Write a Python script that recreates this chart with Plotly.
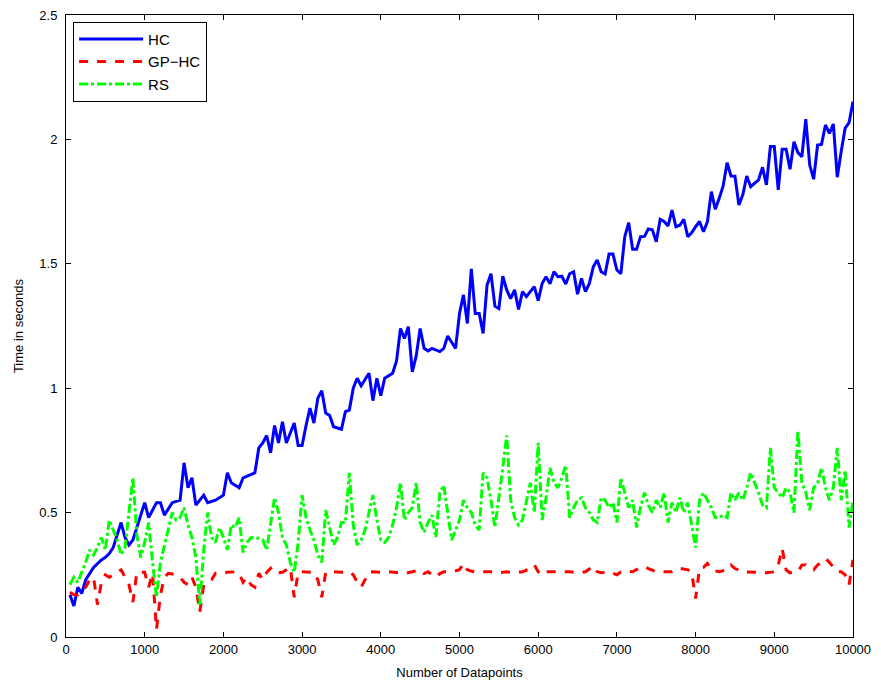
import plotly.graph_objects as go

# ---- data ----
hc_x = [50, 100, 150, 200, 250, 350, 450, 500, 550, 600, 700, 750, 800, 850, 900, 1000, 1050, 1150, 1200, 1250,
        1350, 1450, 1500, 1550, 1600, 1650, 1750, 1800, 1900, 2000, 2050, 2100, 2200, 2250, 2400, 2450, 2500, 2550,
        2600, 2650, 2700, 2750, 2800, 2900, 2950, 3000, 3050, 3100, 3150, 3200, 3250, 3300, 3350, 3400, 3450, 3500,
        3550, 3600, 3650, 3700, 3750, 3850, 3900, 3950, 4000, 4050, 4150, 4200, 4250, 4300, 4350, 4400, 4450, 4500,
        4550, 4600, 4650, 4750, 4800, 4850, 4950, 5000, 5050, 5100, 5150, 5200, 5250, 5300, 5350, 5400, 5450, 5500,
        5550, 5600, 5650, 5700, 5750, 5800, 5850, 5950, 6000, 6050, 6100, 6150, 6200, 6250, 6300, 6350, 6400, 6450,
        6500, 6550, 6600, 6650, 6700, 6750, 6800, 6850, 6900, 6950, 7000, 7050, 7100, 7150, 7200, 7250, 7300, 7350,
        7400, 7450, 7500, 7550, 7600, 7650, 7700, 7750, 7800, 7850, 7900, 7950, 8000, 8050, 8100, 8150, 8200, 8250,
        8300, 8350, 8400, 8450, 8500, 8550, 8600, 8650, 8700, 8750, 8800, 8850, 8900, 8950, 9000, 9050, 9100, 9150,
        9200, 9250, 9300, 9350, 9400, 9450, 9500, 9550, 9600, 9650, 9700, 9750, 9800, 9850, 9900, 9950, 10000]
hc_y = [0.17, 0.125, 0.2, 0.175, 0.23, 0.28, 0.31, 0.32, 0.335, 0.36, 0.46, 0.40, 0.37, 0.39, 0.44, 0.54, 0.48, 0.54, 0.54, 0.49,
        0.54, 0.55, 0.70, 0.60, 0.64, 0.53, 0.57, 0.54, 0.55, 0.57, 0.66, 0.62, 0.60, 0.64, 0.66, 0.76, 0.78, 0.81,
        0.74, 0.85, 0.78, 0.865, 0.78, 0.86, 0.77, 0.77, 0.85, 0.92, 0.86, 0.96, 0.99, 0.90, 0.89, 0.845, 0.84, 0.835,
        0.906, 0.912, 1.0, 1.04, 1.01, 1.06, 0.95, 1.04, 0.97, 1.04, 1.06, 1.11, 1.24, 1.20, 1.247, 1.066, 1.13, 1.24,
        1.16, 1.15, 1.16, 1.147, 1.16, 1.21, 1.16, 1.30, 1.375, 1.26, 1.48, 1.30, 1.30, 1.22, 1.415, 1.46, 1.33, 1.32,
        1.45, 1.395, 1.36, 1.395, 1.317, 1.388, 1.368, 1.408, 1.352, 1.421, 1.448, 1.42, 1.468, 1.448, 1.45, 1.419, 1.46, 1.468,
        1.378, 1.441, 1.388, 1.421, 1.488, 1.515, 1.468, 1.459, 1.539, 1.539, 1.475, 1.46, 1.609, 1.665, 1.558, 1.558, 1.609, 1.61,
        1.64, 1.637, 1.589, 1.679, 1.67, 1.652, 1.716, 1.649, 1.655, 1.679, 1.609, 1.625, 1.649, 1.67, 1.629, 1.669, 1.79, 1.719,
        1.763, 1.813, 1.906, 1.853, 1.852, 1.736, 1.777, 1.853, 1.81, 1.823, 1.837, 1.888, 1.817, 1.971, 1.971, 1.797, 1.96, 1.96,
        1.88, 1.991, 1.947, 1.93, 2.081, 1.897, 1.84, 1.977, 1.98, 2.058, 2.024, 2.062, 1.848, 1.951, 2.045, 2.067, 2.152]

gp_x = [50, 100, 150, 200, 250, 300, 350, 400, 450, 500, 550, 650, 700, 750, 800, 850, 900, 950, 1000, 1050,
        1100, 1150, 1200, 1250, 1300, 1400, 1450, 1500, 1550, 1600, 1650, 1700, 1750, 1800, 1850, 1900, 2000, 2050,
        2150, 2200, 2250, 2300, 2350, 2400, 2450, 2500, 2550, 2600, 2650, 2750, 2800, 2850, 2900, 2950, 3000, 3100,
        3150, 3200, 3250, 3300, 3400, 3500, 3600, 3650, 3700, 3750, 3800, 3850, 3900, 4000, 4100, 4200, 4300, 4400,
        4500, 4550, 4600, 4700, 4750, 4800, 4900, 5000, 5050, 5100, 5200, 5300, 5400, 5500, 5600, 5700, 5800, 5900,
        5950, 6000, 6050, 6100, 6200, 6300, 6400, 6500, 6600, 6700, 6750, 6800, 6900, 7000, 7050, 7100, 7200, 7300,
        7350, 7400, 7500, 7600, 7700, 7800, 7900, 7950, 8000, 8050, 8100, 8150, 8200, 8300, 8400, 8450, 8500, 8600,
        8700, 8800, 8900, 9000, 9050, 9100, 9150, 9200, 9300, 9350, 9400, 9500, 9550, 9650, 9700, 9800, 9850, 9900,
        9950, 10000]
gp_y = [0.18, 0.17, 0.17, 0.19, 0.20, 0.23, 0.24, 0.13, 0.22, 0.25, 0.24, 0.26, 0.27, 0.24, 0.21, 0.14, 0.26, 0.26, 0.26, 0.20,
        0.256, 0.03, 0.17, 0.24, 0.256, 0.25, 0.24, 0.22, 0.21, 0.24, 0.20, 0.10, 0.21, 0.22, 0.23, 0.256, 0.256, 0.26,
        0.262, 0.256, 0.22, 0.24, 0.21, 0.20, 0.256, 0.23, 0.26, 0.276, 0.256, 0.26, 0.27, 0.28, 0.16, 0.26, 0.262, 0.262,
        0.26, 0.23, 0.16, 0.26, 0.262, 0.26, 0.262, 0.25, 0.22, 0.20, 0.23, 0.26, 0.262, 0.26, 0.262, 0.26, 0.255, 0.262,
        0.27, 0.255, 0.262, 0.24, 0.255, 0.262, 0.262, 0.27, 0.296, 0.27, 0.26, 0.262, 0.262, 0.258, 0.262, 0.258, 0.262, 0.275,
        0.29, 0.262, 0.25, 0.262, 0.262, 0.26, 0.262, 0.258, 0.262, 0.285, 0.262, 0.258, 0.262, 0.25, 0.262, 0.265, 0.262, 0.28,
        0.283, 0.275, 0.262, 0.262, 0.262, 0.276, 0.27, 0.26, 0.155, 0.276, 0.28, 0.296, 0.27, 0.262, 0.27, 0.289, 0.275, 0.262,
        0.262, 0.26, 0.258, 0.262, 0.289, 0.356, 0.27, 0.258, 0.262, 0.289, 0.29, 0.27, 0.289, 0.316, 0.30, 0.262, 0.262, 0.25,
        0.21, 0.31]

rs_x = [50, 100, 150, 200, 250, 300, 350, 400, 450, 500, 550, 600, 650, 700, 750, 800, 850, 900, 950, 1000,
        1050, 1100, 1150, 1200, 1250, 1300, 1350, 1400, 1450, 1500, 1550, 1600, 1650, 1700, 1750, 1800, 1850, 1900,
        1950, 2000, 2050, 2100, 2150, 2200, 2250, 2300, 2350, 2450, 2500, 2550, 2600, 2650, 2700, 2750, 2800, 2850,
        2900, 2950, 3000, 3050, 3100, 3150, 3200, 3250, 3300, 3350, 3400, 3450, 3500, 3550, 3600, 3650, 3700, 3750,
        3800, 3850, 3900, 3950, 4000, 4050, 4100, 4150, 4200, 4250, 4300, 4350, 4400, 4450, 4500, 4550, 4600, 4650,
        4700, 4750, 4800, 4850, 4900, 4950, 5000, 5050, 5100, 5150, 5200, 5250, 5300, 5350, 5400, 5450, 5500, 5550,
        5600, 5650, 5700, 5750, 5800, 5850, 5900, 5950, 6000, 6050, 6100, 6150, 6200, 6250, 6300, 6350, 6400, 6450,
        6500, 6550, 6600, 6650, 6700, 6750, 6800, 6850, 6900, 6950, 7000, 7050, 7100, 7150, 7200, 7250, 7300, 7350,
        7400, 7450, 7500, 7550, 7600, 7650, 7700, 7750, 7800, 7850, 7900, 7950, 8000, 8050, 8100, 8150, 8200, 8250,
        8300, 8350, 8400, 8450, 8500, 8550, 8600, 8650, 8700, 8750, 8800, 8850, 8900, 8950, 9000, 9050, 9100, 9150,
        9200, 9250, 9300, 9350, 9400, 9450, 9500, 9550, 9600, 9650, 9700, 9750, 9800, 9850, 9900, 9950, 10000]
rs_y = [0.21, 0.24, 0.22, 0.26, 0.30, 0.35, 0.33, 0.36, 0.40, 0.35, 0.47, 0.43, 0.39, 0.33, 0.36, 0.50, 0.64, 0.41, 0.32, 0.38,
        0.46, 0.30, 0.16, 0.30, 0.37, 0.44, 0.50, 0.47, 0.48, 0.52, 0.45, 0.40, 0.32, 0.13, 0.35, 0.50, 0.40, 0.38,
        0.44, 0.40, 0.35, 0.45, 0.44, 0.48, 0.34, 0.38, 0.40, 0.397, 0.39, 0.35, 0.46, 0.56, 0.50, 0.40, 0.37, 0.30,
        0.26, 0.38, 0.57, 0.48, 0.43, 0.39, 0.33, 0.30, 0.51, 0.44, 0.37, 0.40, 0.46, 0.46, 0.66, 0.45, 0.37, 0.39,
        0.43, 0.50, 0.57, 0.47, 0.39, 0.38, 0.40, 0.45, 0.52, 0.62, 0.47, 0.50, 0.52, 0.62, 0.46, 0.42, 0.46, 0.49,
        0.40, 0.58, 0.61, 0.50, 0.39, 0.43, 0.47, 0.55, 0.52, 0.50, 0.45, 0.43, 0.66, 0.64, 0.55, 0.44, 0.55, 0.68,
        0.81, 0.55, 0.48, 0.45, 0.47, 0.55, 0.62, 0.50, 0.78, 0.47, 0.56, 0.68, 0.62, 0.60, 0.64, 0.69, 0.48, 0.52,
        0.55, 0.56, 0.52, 0.50, 0.47, 0.46, 0.56, 0.55, 0.52, 0.54, 0.46, 0.64, 0.58, 0.52, 0.55, 0.44, 0.52, 0.58,
        0.53, 0.50, 0.55, 0.52, 0.58, 0.46, 0.54, 0.50, 0.56, 0.50, 0.54, 0.45, 0.36, 0.55, 0.58, 0.55, 0.52, 0.48,
        0.48, 0.49, 0.48, 0.58, 0.55, 0.58, 0.55, 0.60, 0.66, 0.62, 0.58, 0.53, 0.52, 0.76, 0.60, 0.58, 0.56, 0.60,
        0.58, 0.50, 0.83, 0.62, 0.58, 0.51, 0.60, 0.62, 0.68, 0.60, 0.55, 0.60, 0.76, 0.55, 0.67, 0.44, 0.55]

x_ticks = [0, 1000, 2000, 3000, 4000, 5000, 6000, 7000, 8000, 9000, 10000]
y_ticks = [0, 0.5, 1, 1.5, 2, 2.5]
y_tick_labels = ["0", "0.5", "1", "1.5", "2", "2.5"]

FONT = "Liberation Sans, Arial, sans-serif"

fig = go.Figure()
fig.add_trace(go.Scatter(x=hc_x, y=hc_y, mode="lines", name="HC",
                         line=dict(color="#0000FF", width=3)))
fig.add_trace(go.Scatter(x=gp_x, y=gp_y, mode="lines", name="GP\u2212HC",
                         line=dict(color="#FF0000", width=3, dash="dash")))
fig.add_trace(go.Scatter(x=rs_x, y=rs_y, mode="lines", name="RS",
                         line=dict(color="#00FF00", width=3, dash="dashdot")))

axis_common = dict(showline=True, linecolor="black", linewidth=1, mirror="ticks",
                   ticks="inside", ticklen=5, tickcolor="black", showgrid=False,
                   zeroline=False, tickfont=dict(family=FONT, size=13, color="black"))

fig.update_xaxes(range=[0, 10000], tickvals=x_ticks, ticktext=[str(v) for v in x_ticks],
                 title=dict(text="Number of Datapoints", standoff=12,
                            font=dict(family=FONT, size=13, color="black")),
                 automargin=False, **axis_common)
fig.update_yaxes(range=[0, 2.5], tickvals=y_ticks, ticktext=y_tick_labels,
                 ticklabelstandoff=5,
                 title=dict(text="Time in seconds", standoff=12,
                            font=dict(family=FONT, size=13, color="black")),
                 automargin=False, **axis_common)

fig.update_layout(
    width=881, height=681,
    margin=dict(l=66, r=28, t=15, b=44),
    paper_bgcolor="white", plot_bgcolor="white",
    font=dict(family=FONT, size=13, color="black"),
    legend=dict(x=0.009, y=0.989, xanchor="left", yanchor="top",
                bgcolor="white", bordercolor="black", borderwidth=1,
                font=dict(family=FONT, size=15, color="black"),
                tracegroupgap=0, itemwidth=64),
    showlegend=True,
)

fig.write_html("out.html", config={"displayModeBar": False},
               post_script="document.body.style.margin='0px';")
